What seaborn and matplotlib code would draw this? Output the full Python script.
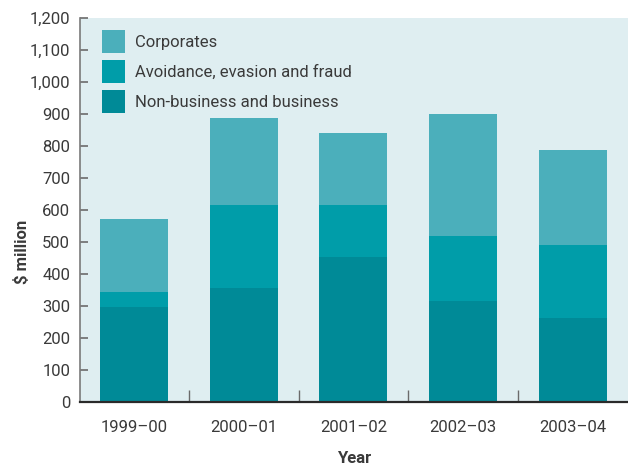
import matplotlib
matplotlib.use("Agg")
import matplotlib.pyplot as plt
from matplotlib.patches import Patch
from matplotlib.ticker import FixedLocator, FuncFormatter
import seaborn as sns
import pandas as pd

# Debt written off by category, $ million
years = ["1999–00", "2000–01", "2001–02", "2002–03", "2003–04"]
non_business = [297, 356, 453, 316, 262]
avoidance = [47, 259, 162, 203, 229]
corporates = [228, 272, 225, 381, 297]

series_names = ["Corporates", "Avoidance, evasion and fraud", "Non-business and business"]
colors = {"Corporates": "#4BAFBB",
          "Avoidance, evasion and fraud": "#009DA9",
          "Non-business and business": "#008A97"}

sns.set_theme(style="white")
plt.rcParams["font.family"] = ["Roboto", "DejaVu Sans"]
text_color = "#3a3a3a"
fs = 12

df = pd.DataFrame({"Year": years,
                   "nb": non_business,
                   "av": avoidance,
                   "co": corporates})
df["nb_av"] = df["nb"] + df["av"]
df["total"] = df["nb_av"] + df["co"]

fig = plt.figure(figsize=(6.28, 4.67), dpi=100)
ax = fig.add_axes([80 / 628, 1 - 402 / 467, 548 / 628, 384 / 467])
ax.set_facecolor("#DFEEF1")

# Stacked bars drawn as cumulative layers, back to front
for col, name in [("total", "Corporates"),
                  ("nb_av", "Avoidance, evasion and fraud"),
                  ("nb", "Non-business and business")]:
    sns.barplot(data=df, x="Year", y=col, color=colors[name], width=0.62,
                saturation=1, linewidth=0, ax=ax, order=years)

ax.set_xlim(-0.49, 4.5)
ax.set_ylim(0, 1200)
ax.yaxis.set_major_locator(FixedLocator(range(0, 1201, 100)))
ax.yaxis.set_major_formatter(FuncFormatter(lambda v, p: f"{int(v):,}"))

ax.tick_params(axis="y", direction="in", length=6, width=1.2, color="#6b6b6b",
               labelsize=fs, labelcolor=text_color, pad=7, left=True)
ax.tick_params(axis="x", which="major", length=0, labelsize=fs,
               labelcolor=text_color, pad=13)
ax.set_xticks(range(len(years)))
ax.set_xticklabels(years)
ax.set_xticks([i + 0.5 for i in range(len(years) - 1)], minor=True)
ax.tick_params(axis="x", which="minor", direction="in", length=9, width=1,
               color="#6b6b6b", bottom=True)

for side in ["top", "right"]:
    ax.spines[side].set_visible(False)
ax.spines["left"].set_color("#7a7a7a")
ax.spines["left"].set_linewidth(1.2)
ax.spines["bottom"].set_color("#2a2a2a")
ax.spines["bottom"].set_linewidth(1.6)

ax.set_xlabel("Year", fontsize=fs, fontweight="bold", color=text_color)
ax.set_ylabel("$ million", fontsize=fs, fontweight="bold", color=text_color)
ax.xaxis.set_label_coords(0.5, -0.146)
ax.yaxis.set_label_coords(-0.105, 0.39)
ax.xaxis.label.set_va("center")
ax.yaxis.label.set_va("center")

handles = [Patch(facecolor=colors[n], edgecolor="none") for n in series_names]
ax.legend(handles, series_names, loc="upper left", bbox_to_anchor=(0.040, 0.969),
          frameon=False, fontsize=fs, borderpad=0, borderaxespad=0,
          handlelength=1.38, handleheight=1.746,
          labelspacing=0.42, handletextpad=0.6, labelcolor=text_color)

fig.savefig("out.png", dpi=100)
